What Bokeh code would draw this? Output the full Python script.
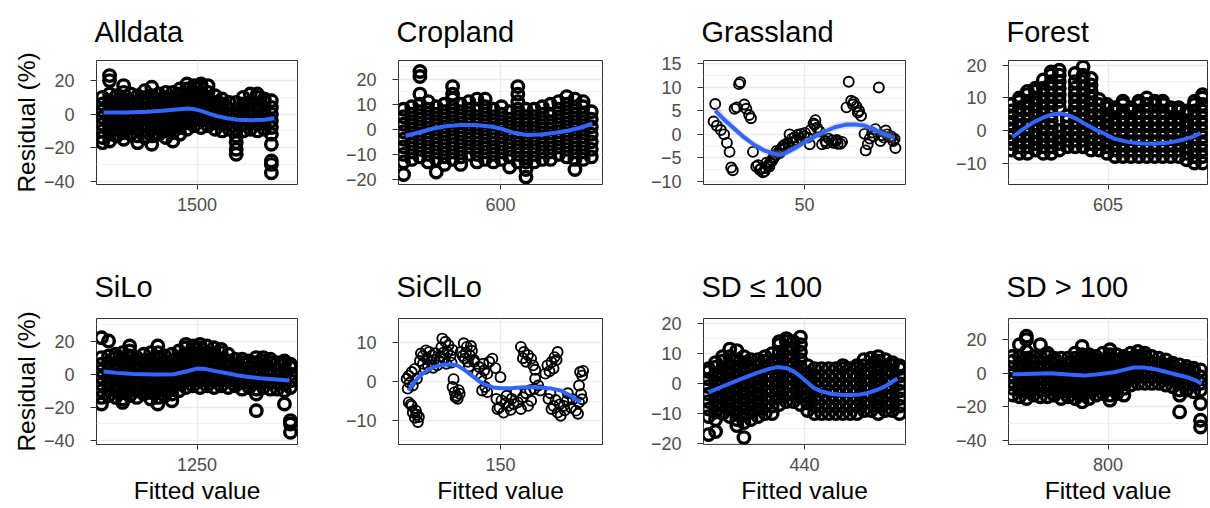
from bokeh.plotting import figure
from bokeh.layouts import column, row
from bokeh.models import FixedTicker, Range1d
from bokeh.embed import file_html
from bokeh.resources import INLINE

FONT = "Liberation Sans"

# ---------------- data ----------------
# Alldata: fitted-value columns and residuals at each column
ALL_X = [1406, 1413, 1420, 1427, 1434, 1441, 1448, 1455, 1462, 1469, 1476, 1483, 1490,
         1497, 1504, 1511, 1518, 1525, 1532, 1539, 1546, 1553, 1560, 1567, 1574]
ALL_Y = [
    [-17, -14, -10, -6, -2, 2, 6, 10],
    [-16, -12, -8, -4, 0, 4, 8, 12, 20, 23],
    [-13, -9, -5, -1, 3, 7, 11],
    [-15, -11, -7, -3, 1, 5, 9, 13, 17],
    [-12, -8, -4, 0, 4, 8, 12],
    [-17, -13, -9, -5, -1, 3, 7, 11],
    [-14, -10, -6, -2, 2, 6, 10, 14],
    [-18, -13, -9, -5, -1, 3, 7, 11, 16],
    [-12, -8, -4, 0, 4, 8, 12],
    [-14, -10, -6, -2, 2, 6, 10, 13],
    [-16, -11, -7, -3, 1, 5, 9, 13],
    [-12, -8, -4, 0, 4, 8, 12, 15],
    [-9, -5, -1, 3, 7, 11, 15, 18],
    [-7, -3, 1, 5, 9, 13, 17],
    [-8, -4, 0, 4, 8, 12, 16, 18],
    [-7, -3, 1, 5, 9, 13, 17],
    [-9, -5, -1, 3, 7, 11],
    [-10, -6, -2, 2, 6, 9],
    [-9, -5, -1, 3, 7],
    [-24, -21, -17, -13, -9, -5, -1, 3, 7],
    [-10, -6, -2, 2, 6, 10],
    [-9, -5, -1, 3, 7, 12],
    [-10, -6, -2, 2, 6, 10, 12],
    [-9, -5, -1, 3, 7, 9],
    [-35, -30, -28, -18, -12, -8, -4, 0, 4, 8],
]
ALL_FIT_X = [1407, 1430, 1450, 1465, 1480, 1490, 1497, 1505, 1512, 1520, 1530, 1540, 1555, 1567, 1577]
ALL_FIT_Y = [0.9, 1.0, 1.4, 2.0, 2.8, 3.3, 3.0, 1.8, 0.3, -1.2, -2.5, -3.3, -3.6, -3.3, -2.5]

# Cropland
CROP_X = [505, 513, 521, 529, 537, 545, 553, 561, 569, 577, 585, 593, 601, 609, 617, 625,
          633, 641, 649, 657, 665, 673, 681, 689]
CROP_Y = [
    [-18, -13, -10, -7, -4, -1, 2, 5, 8],
    [-12, -9, -6, -3, 0, 3, 6, 9],
    [-11, -8, -5, -2, 1, 4, 7, 10, 14, 21, 23],
    [-13, -10, -7, -4, -1, 2, 5, 8, 11],
    [-17, -12, -9, -6, -3, 0, 3, 6, 9],
    [-14, -11, -8, -5, -2, 1, 4, 7, 10],
    [-12, -9, -6, -3, 0, 3, 6, 9, 12, 14, 17],
    [-14, -11, -8, -5, -2, 1, 4, 7, 10],
    [-10, -7, -4, -1, 2, 5, 8, 11],
    [-13, -10, -7, -4, -1, 2, 5, 8, 12],
    [-12, -9, -6, -3, 0, 3, 6, 9, 12],
    [-13, -10, -7, -4, -1, 2, 5, 8],
    [-12, -9, -6, -3, 0, 3, 6, 9],
    [-15, -11, -8, -5, -2, 1, 4, 7],
    [-13, -10, -7, -4, -1, 2, 5, 8, 11, 14, 17],
    [-19, -16, -13, -10, -7, -4, -1, 2, 5, 8],
    [-13, -10, -7, -4, -1, 2, 5, 8],
    [-12, -9, -6, -3, 0, 3, 6, 9],
    [-12, -9, -6, -3, 0, 3, 6, 10],
    [-10, -7, -4, -1, 2, 5, 8, 11],
    [-11, -8, -5, -2, 1, 4, 7, 10, 13],
    [-16, -12, -9, -6, -3, 0, 3, 6, 9, 12],
    [-12, -9, -6, -3, 0, 3, 6, 9, 11],
    [-11, -8, -5, -2, 1, 4, 7],
]
CROP_FIT_X = [507, 520, 534, 548, 561, 575, 590, 600, 607, 614, 626, 640, 654, 666, 678, 690]
CROP_FIT_Y = [-2.6, -1.3, 0.3, 1.3, 1.7, 1.7, 1.1, 0.3, -0.6, -1.5, -2.3, -2.1, -1.4, -0.6, 0.6, 2.2]

# Grassland (fitted value, residual)
GRASS_PTS = [
    (5.8, 6.4), (5.0, 2.7), (6.6, 1.8), (8.6, 0.9), (10.2, 0.0), (11.6, -1.8), (12.9, -3.7),
    (13.7, -7.0), (14.5, -7.6), (18.2, 11.0), (17.6, 10.6), (15.4, 5.4), (16.5, 5.7),
    (20.2, 6.3), (21.2, 5.4), (22.6, 4.1), (23.5, 3.4), (24.5, -3.7), (26.1, -6.8),
    (27.8, -7.5), (29.4, -8.0), (30.6, -7.1), (31.9, -6.6), (33.1, -5.9), (34.4, -5.0),
    (35.5, -4.4), (36.9, -3.9), (38.0, -3.2), (39.3, -2.5), (40.5, -2.9), (41.7, -1.8),
    (42.6, 0.0), (43.8, -0.9), (45.1, -0.6), (46.8, -0.1), (48.4, 0.1), (49.9, -0.4),
    (51.6, -0.7), (52.6, -2.1), (54.5, 2.3), (55.4, 3.0), (56.2, 1.4), (57.5, 0.6),
    (58.7, -2.1), (60.3, -1.4), (62.0, -0.9), (63.6, -1.3), (65.3, -1.4), (66.4, -2.0),
    (67.8, -2.0), (70.8, 5.7), (71.9, 11.1), (73.1, 7.1), (74.4, 6.8), (75.7, 5.9),
    (77.0, 5.0), (78.0, 3.9), (79.7, 0.1), (80.3, -3.4), (81.3, -2.1), (82.3, -0.9),
    (83.5, 0.4), (85.1, 1.1), (86.8, 9.9), (87.6, -1.4), (89.3, -0.7), (90.9, 0.0),
    (92.6, -0.4), (93.9, -1.4), (95.0, -2.9), (27.0, -6.5), (28.6, -7.2), (30.2, -7.8),
    (31.2, -6.0), (32.6, -6.8), (34.0, -5.6), (35.2, -4.8), (36.2, -3.5), (37.6, -4.0),
    (39.0, -3.0), (40.2, -2.2), (42.2, -2.6), (44.2, -1.6), (46.0, -1.2), (47.6, -0.8),
    (50.2, 0.3), (53.2, 1.0), (55.0, 2.0), (60.8, -1.9), (64.2, -1.8), (66.0, -1.2),
    (68.6, -1.6), (74.0, 6.3), (76.4, 4.6), (84.2, -0.4), (88.2, -0.2), (90.2, 0.8),
    (93.2, -0.6), (94.6, -1.0),
]
GRASS_FIT_X = [5.8, 10, 15, 20, 25, 30, 35, 38, 41, 45, 50, 55, 60, 65, 70, 75, 80, 85, 90, 94.5]
GRASS_FIT_Y = [5.0, 3.2, 1.3, -0.6, -2.2, -3.4, -4.1, -4.3, -3.9, -3.0, -1.7, -0.5, 0.6, 1.5,
               2.0, 2.1, 1.8, 0.9, 0.0, -0.8]
GRASS_FIT_SE = [1.6, 1.1, 0.9, 0.8, 0.8, 0.8, 0.8, 0.8, 0.8, 0.8, 0.8, 0.8, 0.8, 0.8,
                0.8, 0.8, 0.8, 0.9, 1.0, 1.3]

# Forest
FOR_X = [508, 516, 524, 532, 540, 548, 556, 564, 572, 580, 588, 596, 604, 612, 620, 628,
         636, 644, 652, 660, 668, 676, 684, 692, 700]
FOR_Y = [
    [-6, -4, -2, 0, 2, 4, 6, 8],
    [-7, -5, -3, -1, 1, 3, 5, 7, 9, 10],
    [-7, -5, -3, -1, 1, 3, 5, 7, 9, 11, 12],
    [-6, -4, -2, 0, 2, 4, 6, 8, 10, 12, 13],
    [-7, -5, -3, -1, 1, 3, 5, 7, 9, 11, 13, 15.5],
    [-7, -5, -3, -1, 1, 3, 5, 7, 9, 11, 13, 15, 17, 18],
    [-6, -4, -2, 0, 7, 9, 11, 13, 15, 17, 18.5],
    [-5, -3, -1, 1, 3, 4.5],
    [-5, -3, -1, 1, 3, 5, 7, 9, 11, 13, 15, 17.5],
    [-5, -3, -1, 1, 3, 5, 7, 9, 11, 13, 15, 17, 19.5],
    [-6, -4, -2, 0, 2, 4, 6, 8, 10, 12, 14, 16],
    [-6, -4, -2, 0, 2, 4, 6, 8, 9.5],
    [-7, -5, -3, -1, 1, 3, 5, 7, 8],
    [-8, -6, -4, -2, 0, 2, 4, 6, 7],
    [-8, -6, -4, -2, 0, 2, 4, 6, 8, 9],
    [-8, -6, -4, -2, 0, 2, 4, 6, 7],
    [-8, -6, -4, -2, 0, 2, 4, 6, 8, 9],
    [-8, -6, -4, -2, 0, 2, 4, 6, 8, 10],
    [-8, -6, -4, -2, 0, 2, 4, 6, 8, 9],
    [-8, -6, -4, -2, 0, 2, 4, 6, 8, 9],
    [-8, -6, -4, -2, 0, 2, 4, 6, 7],
    [-8, -6, -4, -2, 0, 2, 4, 6, 7],
    [-9, -7, -5, -3, -1, 1, 3, 5, 6],
    [-10, -8, -6, -4, -2, 0, 2, 4, 6, 8, 9],
    [-10, -8, -6, -4, -2, 0, 2, 4, 6, 8, 10, 11],
]
FOR_FIT_X = [509, 520, 530, 540, 550, 557, 565, 574, 583, 591, 600, 611, 625, 638, 650, 665, 678, 688, 698]
FOR_FIT_Y = [-2.0, 0.5, 2.5, 4.0, 5.0, 5.2, 4.7, 3.5, 1.8, 0.5, -0.8, -2.5, -3.5, -4.0, -4.1,
             -3.8, -3.0, -2.2, -0.8]

# SiLo
SILO_X = [1155, 1162, 1169, 1176, 1183, 1190, 1197, 1204, 1211, 1218, 1225, 1232, 1239, 1246,
          1253, 1260, 1267, 1274, 1281, 1288, 1295, 1302, 1309, 1316, 1323, 1330, 1337, 1343]
SILO_Y = [
    [-18, -14, -10, -6, -2, 2, 6, 10, 22],
    [-13, -9, -5, -1, 3, 7, 11, 20],
    [-14, -10, -6, -2, 2, 6, 10, 12],
    [-17, -15, -11, -7, -3, 1, 5, 9, 13],
    [-13, -9, -5, -1, 3, 7, 11, 14, 17],
    [-14, -10, -6, -2, 2, 6, 10],
    [-12, -8, -4, 0, 4, 8, 12],
    [-15, -11, -7, -3, 1, 5, 9, 13],
    [-18, -14, -10, -6, -2, 2, 6, 10, 13, 17],
    [-13, -9, -5, -1, 3, 7, 11],
    [-16, -12, -8, -4, 0, 4, 8, 12],
    [-10, -6, -2, 2, 6, 10, 14],
    [-8, -4, 0, 4, 8, 12, 16, 18],
    [-7, -3, 1, 5, 9, 13, 17],
    [-8, -4, 0, 4, 8, 12, 16, 18],
    [-7, -3, 1, 5, 9, 13, 17],
    [-8, -4, 0, 4, 8, 12, 16],
    [-7, -3, 1, 5, 9, 13, 15],
    [-8, -4, 0, 4, 8, 12],
    [-7, -3, 1, 5, 9],
    [-9, -5, -1, 3, 7, 9],
    [-8, -4, 0, 4, 8],
    [-22, -12, -9, -5, -1, 3, 7, 10],
    [-8, -4, 0, 4, 8, 10],
    [-9, -5, -1, 3, 7, 9],
    [-9, -5, -1, 3, 7],
    [-18, -10, -6, -2, 2, 6, 8],
    [-35, -30, -28, -8, -4, 0, 4, 6],
]
SILO_FIT_X = [1157, 1170, 1187, 1210, 1227, 1240, 1250, 1258, 1267, 1280, 1290, 1300, 1313, 1326, 1342]
SILO_FIT_Y = [1.6, 0.8, 0.1, -0.2, 0.0, 1.8, 3.4, 3.2, 2.0, 0.6, -0.6, -1.5, -2.4, -3.0, -3.8]

# SiClLo (fitted value, residual)
SICL_PTS = [
    (60, -5.3), (63, -6.2), (64, -7.9), (66, -9.2), (69, -10.3), (70, -9.0), (67, -7.4), (62, -5.8), (68, -8.4),
    (58, 0.7), (60, 1.5), (63, 2.4), (66, 3.2), (68, 0.7), (61, -0.3), (64, -1.0), (59, -1.8),
    (72, 7.1), (74, 6.5), (77, 7.9), (80, 7.5), (83, 6.6), (85, 5.5), (78, 5.7), (74, 4.5), (82, 5.0),
    (88, 4.1), (76, 3.2), (71, 5.2), (86, 7.2), (79, 4.0), (84, 3.5), (90, 5.2),
    (93, 10.9), (96, 10.1), (92, 8.7), (98, 7.5), (95, 5.8), (101, 6.5), (99, 9.2), (103, 8.0),
    (94, 7.3), (97, 4.5), (102, 4.8), (91, 6.4),
    (103, -1.4), (105, -2.7), (107, -3.6), (108, -4.4), (104, 0.6), (109, -2.2), (106, -4.0), (110, -3.1),
    (114, 9.7), (117, 8.8), (111, 7.5), (120, 6.6), (115, 5.8), (122, 7.8), (118, 5.0), (113, 6.5),
    (124, 5.5), (116, 7.3), (121, 9.0), (119, 3.8),
    (124, 5.0), (129, 3.7), (134, 2.8), (139, 5.0), (142, 5.8), (137, 2.0), (127, 2.0), (131, 1.0),
    (145, 3.4), (133, 4.5),
    (132, -2.3), (137, -2.7), (135, -1.4),
    (146, -4.4), (149, -6.6), (153, -7.9), (158, -6.2), (161, -4.4), (156, -3.6), (151, -4.8),
    (147, -7.0), (155, -5.5), (160, -7.2), (163, -5.8), (150, 1.1),
    (167, -5.3), (172, -4.0), (177, -6.2), (180, -4.9), (170, -7.0), (175, -3.0), (165, -2.6), (179, -2.2),
    (170, 8.8), (173, 7.5), (177, 6.7), (180, 5.8), (182, 4.1), (175, 5.0), (184, 3.0), (172, 5.9),
    (184, 0.7), (187, -1.0), (183, -1.9), (189, -2.3),
    (196, 4.1), (200, 4.9), (203, 6.2), (206, 7.5), (198, 2.6), (202, 3.3), (205, 5.5), (194, 2.0),
    (197, -4.4), (202, -6.2), (206, -7.9), (209, -8.7), (212, -6.2), (215, -4.9), (199, -3.0),
    (204, -4.7), (208, -5.8), (213, -7.3), (200, -7.0), (216, -3.0),
    (219, -6.6), (224, -7.4), (227, -5.3), (221, -4.5), (226, -8.2),
    (228, 2.4), (230, 1.5), (227, -1.0), (229, -3.2), (230, -4.5), (231, 2.7),
]
SICL_FIT_X = [59.8, 65, 71.3, 78, 84.4, 91, 97.5, 103, 107.4, 115, 123.8, 130, 136.9, 143, 150,
              160, 169.7, 180, 189.3, 200, 209, 218, 228.7]
SICL_FIT_Y = [-2.3, -0.3, 1.5, 2.8, 3.7, 4.1, 4.3, 4.3, 4.1, 2.9, 1.1, -0.1, -1.0, -1.5, -1.7,
              -1.7, -1.5, -1.4, -1.5, -1.8, -2.3, -3.5, -5.3]

# SD <= 100
SD1_X = [345, 352, 359, 366, 373, 380, 387, 394, 401, 408, 415, 422, 429, 436, 443, 450, 457,
         464, 471, 478, 485, 492, 499, 506, 513, 520, 527, 534]
SD1_Y = [
    [-17, -11, -8.5, -6, -3.5, -1, 1.5, 4, 5],
    [-16, -12, -9.5, -7, -4.5, -2, 0.5, 3, 5.5, 7],
    [-10, -7.5, -5, -2.5, 0, 2.5, 5, 7.5, 9],
    [-11, -8.5, -6, -3.5, -1, 1.5, 4, 6.5, 9, 11.5],
    [-14, -12, -9.5, -7, -4.5, -2, 0.5, 3, 5.5, 8, 11],
    [-18, -13, -10.5, -8, -5.5, -3, -0.5, 2, 4.5, 7, 9],
    [-12, -9.5, -7, -4.5, -2, 0.5, 3, 5.5, 8],
    [-11, -8.5, -6, -3.5, -1, 1.5, 4, 6.5, 8],
    [-10, -7.5, -5, -2.5, 0, 2.5, 5, 7.5, 9],
    [-10, -7.5, -5, -2.5, 0, 2.5, 5, 7.5, 10],
    [-7, -4.5, -2, 0.5, 3, 5.5, 8, 10.5, 13, 14],
    [-6, -3.5, -1, 1.5, 4, 6.5, 9, 11.5, 14, 15],
    [-6, -3.5, -1, 1.5, 4, 6.5, 9, 11.5, 14],
    [-7, -4.5, -2, 0.5, 3, 5.5, 8, 10.5, 13, 15.5],
    [-9, -6.5, -4, -1.5, 1, 3.5, 6],
    [-10, -7.5, -5, -2.5, 0, 2.5, 5],
    [-10, -7.5, -5, -2.5, 0, 2.5, 5],
    [-10, -7.5, -5, -2.5, 0, 2.5, 5],
    [-10, -7.5, -5, -2.5, 0, 2.5, 5],
    [-10, -7.5, -5, -2.5, 0, 2.5, 5, 6],
    [-10, -7.5, -5, -2.5, 0, 2.5, 5],
    [-10, -7.5, -5, -2.5, 0, 2.5, 5, 6],
    [-9, -6.5, -4, -1.5, 1, 3.5, 6, 8],
    [-9, -6.5, -4, -1.5, 1, 3.5, 6, 8.5],
    [-10, -7.5, -5, -2.5, 0, 2.5, 5, 7.5, 9],
    [-9, -6.5, -4, -1.5, 1, 3.5, 6, 8],
    [-9, -6.5, -4, -1.5, 1, 3.5, 6, 7],
    [-10, -7.5, -5, -2.5, 0, 2.5, 5, 6],
]
SD1_FIT_X = [345, 360, 370, 380, 393, 405, 413, 423, 430, 436, 443, 449, 457, 466, 476, 486,
             495, 502, 510, 519, 525, 532]
SD1_FIT_Y = [-2.9, -0.8, 0.6, 1.9, 3.6, 4.9, 5.5, 5.1, 3.9, 2.4, 0.4, -1.4, -2.6, -3.4, -3.7,
             -3.8, -3.6, -3.2, -2.3, -1.1, 0.2, 1.7]

# SD > 100
SD2_X = [704, 711, 718, 725, 732, 739, 746, 753, 760, 767, 774, 781, 788, 795, 802, 809, 816,
         823, 830, 837, 844, 851, 858, 865, 872, 879, 886, 893]
SD2_Y = [
    [-13, -9, -5, -1, 3, 7, 10],
    [-14, -10, -6, -2, 2, 6, 10, 17],
    [-15, -11, -7, -3, 1, 5, 9, 13, 20, 22],
    [-13, -9, -5, -1, 3, 7, 10],
    [-14, -10, -6, -2, 2, 6, 10, 17],
    [-14, -10, -6, -2, 2, 6, 10, 12],
    [-13, -9, -5, -1, 3, 7, 9],
    [-15, -11, -7, -3, 1, 5, 9],
    [-14, -10, -6, -2, 2, 6, 9],
    [-15, -11, -7, -3, 1, 5, 9, 12],
    [-17, -13, -9, -5, -1, 3, 7, 11, 16],
    [-15, -11, -7, -3, 1, 5, 9, 11],
    [-13, -9, -5, -1, 3, 7, 10],
    [-12, -8, -4, 0, 4, 8, 12],
    [-16, -13, -9, -5, -1, 3, 7, 11, 14],
    [-12, -8, -4, 0, 4, 8, 11],
    [-13, -9, -5, -1, 3, 7, 10],
    [-7, -3, 1, 5, 9, 12],
    [-6, -2, 2, 6, 10, 13],
    [-6, -2, 2, 6, 10, 12],
    [-6, -2, 2, 6, 10],
    [-6, -2, 2, 6, 9],
    [-7, -3, 1, 5, 8],
    [-8, -4, 0, 4, 6],
    [-23, -13, -10, -6, -2, 2, 5],
    [-10, -6, -2, 2, 4],
    [-11, -7, -3, 1, 3],
    [-32, -28, -18, -10, -6, -2, 2],
]
SD2_FIT_X = [704, 715, 725, 742, 760, 776, 790, 806, 816, 826, 836, 846, 856, 866, 880, 888, 894]
SD2_FIT_Y = [-0.6, -0.5, -0.3, 0.0, -0.8, -1.4, -0.6, 0.6, 2.0, 3.4, 3.4, 2.6, 1.2, -0.4,
             -2.4, -4.2, -6.2]

TITLES = ["Alldata", "Cropland", "Grassland", "Forest", "SiLo", "SiClLo", "SD \u2264 100", "SD > 100"]
X_TICKS = [1500, 600, 50, 605, 1250, 150, 440, 800]


def flat(cols, groups):
    xs, ys = [], []
    for c, g in zip(cols, groups):
        for v in g:
            xs.append(c)
            ys.append(v)
    return xs, ys


def pts(pairs):
    return [a for a, b in pairs], [b for a, b in pairs]


COL_W = [310, 305, 303, 292]
COL_BL = [96, 88, 88, 90]
COL_BR = [13, 13, 13, 3]
ROW_H = [252, 256]
ROW_BT = [59, 66]
ROW_BB = [68, 64]
ROW_TITLE_STANDOFF = [26, 31]


def panel(i, xr, yr, yticks, yminor, xs, ys, fx, fy, band=None, dense=True):
    r, c = divmod(i, 4)
    p = figure(width=COL_W[c], height=ROW_H[r], x_range=Range1d(*xr), y_range=Range1d(*yr),
               output_backend="svg", toolbar_location=None,
               min_border_left=COL_BL[c], min_border_right=COL_BR[c],
               min_border_top=ROW_BT[r], min_border_bottom=ROW_BB[r],
               background_fill_color="white", border_fill_color="white")
    p.title.text = TITLES[i]
    p.title.text_font = FONT
    p.title.text_font_size = "29px"
    p.title.text_font_style = "normal"
    p.title.text_color = "#000000"
    p.title.align = "left"
    p.title.offset = -2
    p.title.standoff = ROW_TITLE_STANDOFF[r]

    p.outline_line_color = "#333333"
    p.outline_line_width = 1

    p.xaxis.ticker = FixedTicker(ticks=[X_TICKS[i]])
    p.yaxis.ticker = FixedTicker(ticks=yticks, minor_ticks=yminor)
    for ax in (p.xaxis, p.yaxis):
        ax.axis_line_color = None
        ax.major_tick_line_color = "#333333"
        ax.major_tick_in = 0
        ax.minor_tick_line_color = None
        ax.major_label_text_font = FONT
        ax.major_label_text_font_size = "18px"
        ax.major_label_text_color = "#4D4D4D"
        ax.axis_label_text_font = FONT
        ax.axis_label_text_font_size = "24.5px"
        ax.axis_label_text_font_style = "normal"
        ax.axis_label_text_color = "#000000"
    p.xaxis.major_tick_out = 5
    p.yaxis.major_tick_out = 6
    p.xaxis.major_label_standoff = 8
    p.yaxis.major_label_standoff = 16
    if c == 0:
        p.yaxis.axis_label = "Residual (%)"
        p.yaxis.axis_label_standoff = 1
    if r == 1:
        p.xaxis.axis_label = "Fitted value"
        p.xaxis.axis_label_standoff = 3

    p.xgrid.grid_line_color = "#EBEBEB"
    p.xgrid.grid_line_width = 1.3
    p.ygrid.grid_line_color = "#EBEBEB"
    p.ygrid.grid_line_width = 1.3
    p.ygrid.minor_grid_line_color = "#F2F2F2"
    p.ygrid.minor_grid_line_width = 1

    if dense:
        p.scatter(xs, ys, marker="circle", size=11.5, fill_color=None,
                  line_color="black", line_width=3.4)
    else:
        p.scatter(xs, ys, marker="circle", size=10, fill_color=None,
                  line_color="black", line_width=1.9)
    if band is not None:
        lo = [a - b for a, b in zip(fy, band)]
        hi = [a + b for a, b in zip(fy, band)]
        p.varea(x=fx, y1=lo, y2=hi, fill_color="#999999", fill_alpha=0.3)
    p.line(fx, fy, line_color="#3366FF", line_width=4)
    return p


ax_, ay_ = flat(ALL_X, ALL_Y)
cx, cy = flat(CROP_X, CROP_Y)
gx, gy = pts(GRASS_PTS)
fxs, fys = flat(FOR_X, FOR_Y)
sx, sy = flat(SILO_X, SILO_Y)
scx, scy = pts(SICL_PTS)
d1x, d1y = flat(SD1_X, SD1_Y)
d2x, d2y = flat(SD2_X, SD2_Y)

p1 = panel(0, (1400, 1600), (-42, 32), [-40, -20, 0, 20], [-30, -10, 10, 30], ax_, ay_, ALL_FIT_X, ALL_FIT_Y)
p2 = panel(1, (500, 700), (-22, 27.4), [-20, -10, 0, 10, 20], [-15, -5, 5, 15, 25], cx, cy, CROP_FIT_X, CROP_FIT_Y)
p3 = panel(2, (0, 100), (-10.6, 15.6), [-10, -5, 0, 5, 10, 15], [-7.5, -2.5, 2.5, 7.5, 12.5], gx, gy,
           GRASS_FIT_X, GRASS_FIT_Y, band=GRASS_FIT_SE, dense=False)
p4 = panel(3, (505, 705), (-16.6, 21.5), [-10, 0, 10, 20], [-15, -5, 5, 15], fxs, fys, FOR_FIT_X, FOR_FIT_Y)
p5 = panel(4, (1150, 1350), (-42.4, 33.6), [-40, -20, 0, 20], [-30, -10, 10, 30], sx, sy, SILO_FIT_X, SILO_FIT_Y)
p6 = panel(5, (50, 250), (-16, 16), [-10, 0, 10], [-15, -5, 5, 15], scx, scy, SICL_FIT_X, SICL_FIT_Y, dense=False)
p7 = panel(6, (340, 540), (-20.3, 21.7), [-20, -10, 0, 10, 20], [-15, -5, 5, 15], d1x, d1y, SD1_FIT_X, SD1_FIT_Y)
p8 = panel(7, (700, 900), (-42.4, 32.6), [-40, -20, 0, 20], [-30, -10, 10, 30], d2x, d2y, SD2_FIT_X, SD2_FIT_Y)

layout = column(row(p1, p2, p3, p4), row(p5, p6, p7, p8))
open("out.html", "w").write(file_html(layout, INLINE))
